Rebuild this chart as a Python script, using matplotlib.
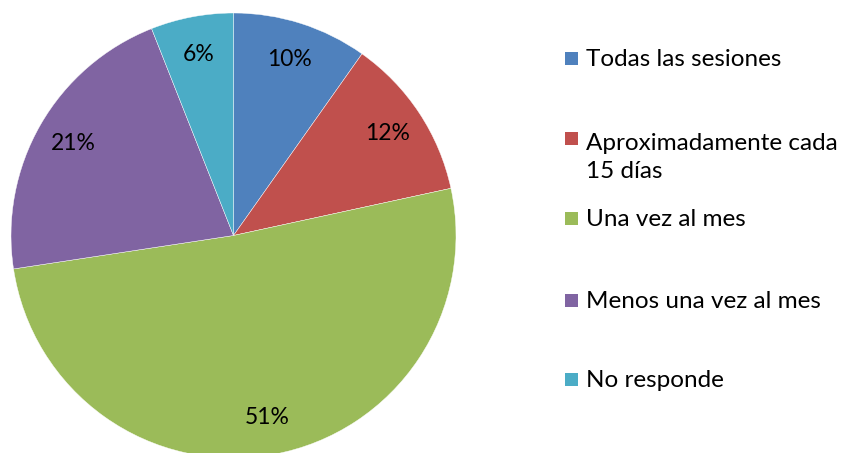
import matplotlib
matplotlib.use("Agg")
import matplotlib.pyplot as plt
from matplotlib.patches import Rectangle

# datos del gráfico
categorias = ["Todas las sesiones", "Aproximadamente cada\n15 días", "Una vez al mes",
              "Menos una vez al mes", "No responde"]
valores = [9.8, 11.8, 51.0, 21.4, 6.0]
etiquetas = ["10%", "12%", "51%", "21%", "6%"]
colores = ["#4F81BD", "#C0504D", "#9BBB59", "#8064A2", "#4BACC6"]

plt.rcParams["font.family"] = ["Lato", "DejaVu Sans"]

W, H = 846, 453
fig = plt.figure(figsize=(W / 100, H / 100), dpi=100)

# eje de la tarta: centro (233.5, 235.5), radio 222.5 px
cx, cy, r = 233.5, 235.5, 222.5
ax = fig.add_axes([(cx - r) / W, (H - cy - r) / H, 2 * r / W, 2 * r / H])
wedges, textos = ax.pie(valores, colors=colores, startangle=90, counterclock=False,
                        labels=etiquetas, labeldistance=0.83,
                        wedgeprops=dict(edgecolor="white", linewidth=0.3),
                        textprops=dict(fontsize=16.5, color="black", ha="center", va="center"))
ax.set_xlim(-1, 1)
ax.set_ylim(-1, 1)
ax.set_aspect("equal")
ax.axis("off")

# leyenda a mano (primera línea alineada con el cuadro)
baselines = [66, 146, 226, 307.5, 387]
for cat, col, yb in zip(categorias, colores, baselines):
    fig.add_artist(Rectangle((565 / W, (H - yb + 1) / H), 13 / W, 13 / H,
                             facecolor=col, edgecolor="none", transform=fig.transFigure))
    # va='baseline' usa la última línea
    yt = yb + 32 * cat.count("\n")
    fig.text(586 / W, (H - yt) / H, cat, fontsize=17.5, va="baseline", ha="left",
             linespacing=1.42)

fig.savefig("out.png", dpi=100, facecolor="white")
